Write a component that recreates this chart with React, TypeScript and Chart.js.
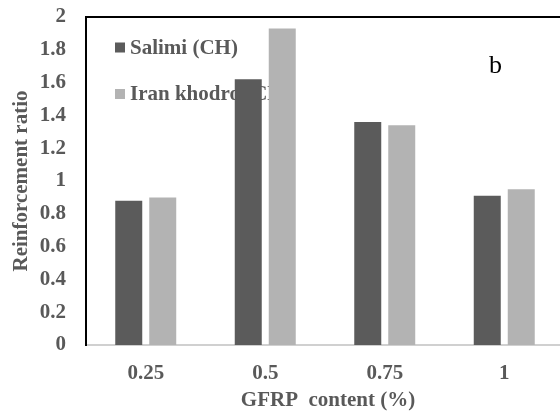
import React, { useEffect, useRef } from "react";
import { Chart, registerables } from "chart.js";

Chart.register(...registerables);

// Data
const categories = ["0.25", "0.5", "0.75", "1"];
const salimiValues = [0.88, 1.62, 1.36, 0.91];
const iranKhodroValues = [0.9, 1.93, 1.34, 0.95];
const seriesNames = ["Salimi (CH)", "Iran khodro (CL)"];
const yTickLabels = ["0", "0.2", "0.4", "0.6", "0.8", "1", "1.2", "1.4", "1.6", "1.8", "2"];

const DARK = "#5b5b5b";
const LIGHT = "#b3b3b3";
const TEXT = "#595959";
const FONT = "'Liberation Serif', 'Times New Roman', serif";

const overlayPlugin = {
  id: "overlay",
  beforeDatasetsDraw(chart: any) {
    const { ctx, chartArea } = chart;
    ctx.save();
    // legend inside the plot, drawn beneath the bars
    const colors = [DARK, LIGHT];
    const rows = [47.5, 94];
    ctx.font = `bold 21px ${FONT}`;
    ctx.textBaseline = "middle";
    ctx.textAlign = "left";
    seriesNames.forEach((name, i) => {
      const y = rows[i];
      ctx.fillStyle = colors[i];
      ctx.fillRect(chartArea.left + 29, y - 5, 10, 10);
      ctx.fillStyle = TEXT;
      ctx.fillText(name, chartArea.left + 44, y + 1);
    });
    ctx.restore();
  },
  afterDraw(chart: any) {
    const { ctx, chartArea, width } = chart;
    ctx.save();
    // top frame line
    ctx.strokeStyle = "#000";
    ctx.lineWidth = 2;
    ctx.beginPath();
    ctx.moveTo(chartArea.left - 1, chartArea.top);
    ctx.lineTo(width, chartArea.top);
    ctx.stroke();

    // panel letter
    ctx.fillStyle = "#000";
    ctx.font = `26px ${FONT}`;
    ctx.textAlign = "left";
    ctx.textBaseline = "alphabetic";
    ctx.fillText("b", 489, 73);

    // axis titles
    ctx.fillStyle = TEXT;
    ctx.font = `bold 21px ${FONT}`;
    ctx.textAlign = "center";
    ctx.textBaseline = "middle";
    ctx.fillText("GFRP  content (%)", (chartArea.left + chartArea.right) / 2 + 3, 401);

    ctx.translate(22, (chartArea.top + chartArea.bottom) / 2);
    ctx.rotate(-Math.PI / 2);
    ctx.fillText("Reinforcement ratio", 0, 0);
    ctx.restore();
  },
};

export default function App() {
  const canvasRef = useRef<HTMLCanvasElement | null>(null);

  useEffect(() => {
    if (!canvasRef.current) return;
    const chart = new Chart(canvasRef.current, {
      type: "bar",
      data: {
        labels: categories,
        datasets: [
          {
            label: seriesNames[0],
            data: salimiValues,
            backgroundColor: DARK,
            categoryPercentage: 0.569,
            barPercentage: 0.794,
          },
          {
            label: seriesNames[1],
            data: iranKhodroValues,
            backgroundColor: LIGHT,
            categoryPercentage: 0.569,
            barPercentage: 0.794,
          },
        ],
      },
      options: {
        animation: false,
        responsive: false,
        layout: { padding: { top: 17, right: 6, left: 0, bottom: 0 } },
        plugins: {
          legend: { display: false },
          tooltip: { enabled: false },
        },
        scales: {
          x: {
            grid: { display: false, drawTicks: false },
            border: { display: true, color: "#d0d0d0", width: 2 },
            ticks: {
              color: TEXT,
              font: { family: FONT, size: 21, weight: "bold" },
              padding: 16,
              maxRotation: 0,
            },
            afterFit(scale: any) {
              scale.height = 68;
              scale.paddingLeft = 0;
              scale.paddingRight = 0;
            },
          },
          y: {
            min: 0,
            max: 2,
            grid: { display: false, drawTicks: false },
            border: { display: true, color: "#000", width: 2 },
            ticks: {
              stepSize: 0.2,
              color: TEXT,
              font: { family: FONT, size: 21, weight: "bold" },
              padding: 20,
              callback: (_v: any, i: number) => yTickLabels[i],
            },
            afterFit(scale: any) {
              scale.width = 86;
              scale.paddingTop = 0;
              scale.paddingBottom = 0;
            },
          },
        },
      },
      plugins: [overlayPlugin],
    });
    return () => chart.destroy();
  }, []);

  return (
    <div
      style={{
        position: "fixed",
        left: 0,
        top: 0,
        width: 560,
        height: 413,
        overflow: "hidden",
        background: "#fff",
      }}
    >
      <canvas ref={canvasRef} width={570} height={413} style={{ width: 570, height: 413, display: "block" }} />
    </div>
  );
}
